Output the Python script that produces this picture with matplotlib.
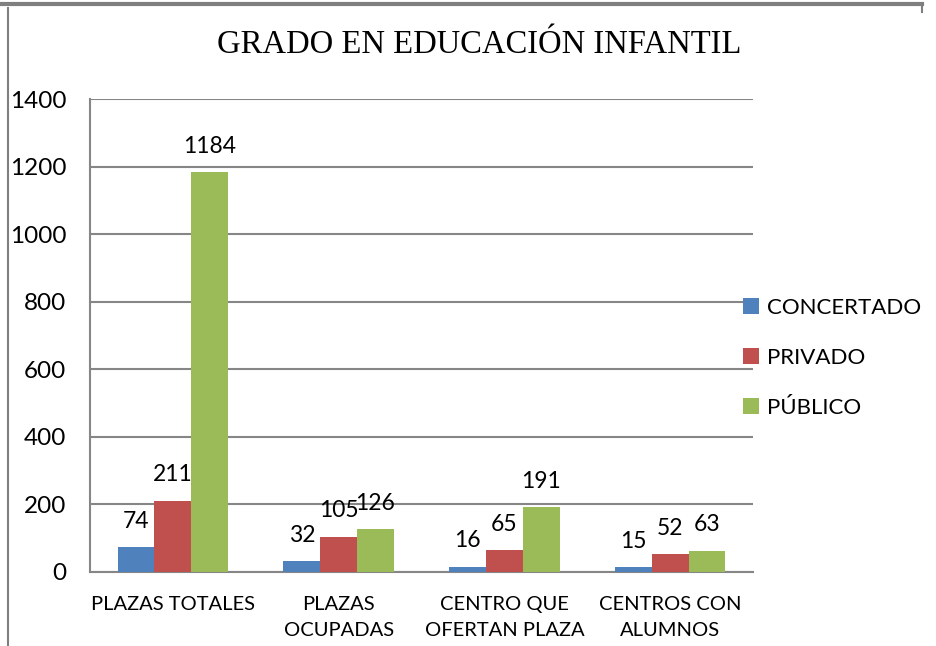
import matplotlib.pyplot as plt
from matplotlib.lines import Line2D
import numpy as np

categories = ["PLAZAS TOTALES", "PLAZAS\nOCUPADAS", "CENTRO QUE\nOFERTAN PLAZA", "CENTROS CON\nALUMNOS"]
series_names = ["CONCERTADO", "PRIVADO", "PÚBLICO"]
concertado = [74, 32, 16, 15]
privado = [211, 105, 65, 52]
publico = [1184, 126, 191, 63]
colors = ["#4F81BD", "#C0504D", "#9BBB59"]

plt.rcParams["font.family"] = ["Lato", "DejaVu Sans"]

fig = plt.figure(figsize=(9.36, 6.46), dpi=100)
ax = fig.add_axes([90 / 936, 1 - 572 / 646, 663 / 936, 473 / 646])

x = np.arange(len(categories))
w = 1 / 4.5
for i, (vals, name, c) in enumerate(zip([concertado, privado, publico], series_names, colors)):
    bars = ax.bar(x + (i - 1) * w, vals, w, color=c, label=name, zorder=3)
    ax.bar_label(bars, labels=[str(v) for v in vals], padding=11, fontsize=16.5)

ax.set_xlim(-0.5, len(categories) - 0.5)
ax.set_ylim(0, 1400)
ax.set_yticks(range(0, 1401, 200))
ax.yaxis.grid(True, color="#868686", linewidth=1.5, zorder=0)
ax.tick_params(axis="y", length=0, pad=17, labelsize=17.5)
ax.tick_params(axis="x", length=0, pad=17, labelsize=14.5)
ax.set_xticks(x)
ax.set_xticklabels(categories, linespacing=1.7, va="top")
for s in ["top", "right"]:
    ax.spines[s].set_visible(False)
for s in ["left", "bottom"]:
    ax.spines[s].set_color("#868686")
    ax.spines[s].set_linewidth(1.5)

fig.text(479 / 936, 1 - 45 / 646, "GRADO EN EDUCACIÓN INFANTIL", ha="center", va="center",
         fontsize=23.5, family="Liberation Serif")

ax.legend(loc="center left", bbox_to_anchor=(723 / 936, 1 - 358 / 646), bbox_transform=fig.transFigure,
          frameon=False, fontsize=16, handlelength=0.7, handleheight=0.7, handletextpad=0.4,
          labelspacing=1.35)

# outer frame lines (screenshot border)
fig.add_artist(Line2D([0, 922 / 936], [1 - 4 / 646, 1 - 4 / 646], color="#7f7f7f", linewidth=3, transform=fig.transFigure))
fig.add_artist(Line2D([922 / 936, 922 / 936], [1 - 4 / 646, 1 - 12 / 646], color="#7f7f7f", linewidth=1.5, transform=fig.transFigure))
fig.add_artist(Line2D([8 / 936, 8 / 936], [1 - 8 / 646, 0], color="#7f7f7f", linewidth=1.5, transform=fig.transFigure))

fig.savefig("out.png", dpi=100)
